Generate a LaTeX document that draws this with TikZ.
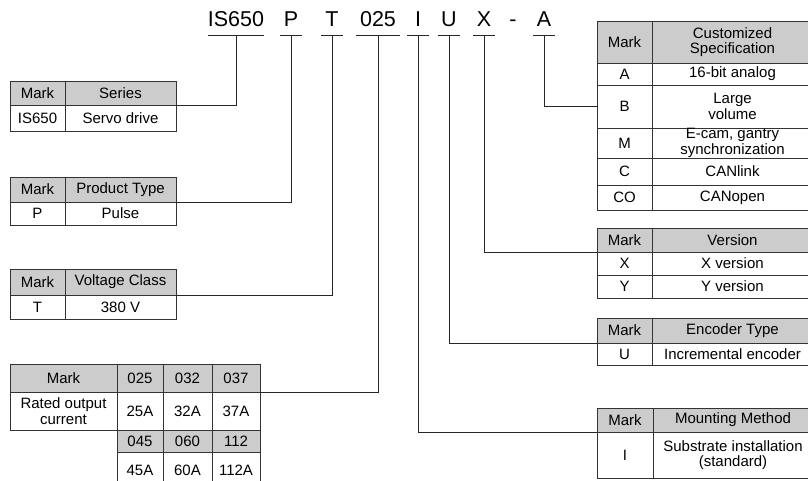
\documentclass[tikz,border=0pt]{standalone}
\usepackage{fontspec}
\setmainfont{Liberation Sans}
\usetikzlibrary{positioning}
\newcommand{\cellfont}{\fontsize{15}{15.5}\selectfont}
\newcommand{\codefont}{\fontsize{21.5}{23}\selectfont}

\begin{document}
\begin{tikzpicture}[x=1pt, y=-1pt,
  cell/.style={draw=black!80, line width=0.8pt, fill=white, anchor=north west,
               inner sep=0pt, outer sep=0pt, align=center, font=\cellfont, text=black},
  head/.style={cell, fill=black!20},
  link/.style={draw=black!85, line width=0.8pt},
  code/.style={anchor=south, font=\codefont, text=black, inner ysep=8pt,
               inner xsep=3.5pt, minimum width=21pt, text depth=0pt},
]
\useasboundingbox (0,0) rectangle (808,481);

% model code
\node[code, inner xsep=0pt] (c-ser) at (236,35) {IS650};
\node[code] (c-pro) at (291,35) {P};
\node[code] (c-vol) at (332,35) {T};
\node[code] (c-cur) at (378,35) {025};
\node[code] (c-mnt) at (418,35) {I};
\node[code] (c-enc) at (449,35) {U};
\node[code] (c-ver) at (484,35) {X};
\node[code] (c-dash) at (513,35) {-};
\node[code] (c-cus) at (544,35) {A};

% left tables
\node[head, minimum width=55, minimum height=24] (ser-m) at (10,81) {Mark};
\node[head, minimum width=111, minimum height=24] (ser-t) at (65,81) {Series};
\node[cell, minimum width=55, minimum height=26] (ser-m1) at (10,105) {IS650};
\node[cell, minimum width=111, minimum height=26] (ser-t1) at (65,105) {Servo drive};

\node[head, minimum width=55, minimum height=25] (pro-m) at (10,177) {Mark};
\node[head, minimum width=111, minimum height=25] (pro-t) at (65,177) {Product Type};
\node[cell, minimum width=55, minimum height=23] (pro-m1) at (10,202) {P};
\node[cell, minimum width=111, minimum height=23] (pro-t1) at (65,202) {Pulse};

\node[head, minimum width=55, minimum height=26] (vol-m) at (10,269) {Mark};
\node[head, minimum width=111, minimum height=26] (vol-t) at (65,269) {Voltage Class};
\node[cell, minimum width=55, minimum height=24] (vol-m1) at (10,295) {T};
\node[cell, minimum width=111, minimum height=24] (vol-t1) at (65,295) {380 V};

\node[head, minimum width=107, minimum height=28] (cur-m) at (10,364) {Mark};
\node[head, minimum width=46, minimum height=28] (cur-c1) at (117,364) {025};
\node[head, minimum width=49, minimum height=28] (cur-c2) at (163,364) {032};
\node[head, minimum width=48, minimum height=28] (cur-c3) at (212,364) {037};
\node[cell, minimum width=107, minimum height=38] (cur-t) at (10,392) {Rated output\\current};
\node[cell, minimum width=46, minimum height=38] (cur-v1) at (117,392) {25A};
\node[cell, minimum width=49, minimum height=38] (cur-v2) at (163,392) {32A};
\node[cell, minimum width=48, minimum height=38] (cur-v3) at (212,392) {37A};
\node[head, minimum width=46, minimum height=22] (cur-c4) at (117,430) {045};
\node[head, minimum width=49, minimum height=22] (cur-c5) at (163,430) {060};
\node[head, minimum width=48, minimum height=22] (cur-c6) at (212,430) {112};
\node[cell, minimum width=46, minimum height=36] (cur-v4) at (117,452) {45A};
\node[cell, minimum width=49, minimum height=36] (cur-v5) at (163,452) {60A};
\node[cell, minimum width=48, minimum height=36] (cur-v6) at (212,452) {112A};

% right tables
\node[head, minimum width=55, minimum height=42] (cus-m) at (597,21) {Mark};
\node[head, minimum width=161, minimum height=42] (cus-t) at (652,21) {Customized\\Specification};
\node[cell, minimum width=55, minimum height=22] (cus-A-m) at (597,63) {A};
\node[cell, minimum width=161, minimum height=22] (cus-A-t) at (652,63) {16-bit analog};
\node[cell, minimum width=55, minimum height=43] (cus-B-m) at (597,85) {B};
\node[cell, minimum width=161, minimum height=43] (cus-B-t) at (652,85) {Large\\volume};
\node[cell, minimum width=55, minimum height=30] (cus-M-m) at (597,128) {M};
\node[cell, minimum width=161, minimum height=30] (cus-M-t) at (652,128) {E-cam, gantry\\synchronization};
\node[cell, minimum width=55, minimum height=27] (cus-C-m) at (597,158) {C};
\node[cell, minimum width=161, minimum height=27] (cus-C-t) at (652,158) {CANlink};
\node[cell, minimum width=55, minimum height=25] (cus-CO-m) at (597,185) {CO};
\node[cell, minimum width=161, minimum height=25] (cus-CO-t) at (652,185) {CANopen};

\node[head, minimum width=55, minimum height=24] (ver-m) at (597,228) {Mark};
\node[head, minimum width=161, minimum height=24] (ver-t) at (652,228) {Version};
\node[cell, minimum width=55, minimum height=23] (ver-X-m) at (597,252) {X};
\node[cell, minimum width=161, minimum height=23] (ver-X-t) at (652,252) {X version};
\node[cell, minimum width=55, minimum height=23] (ver-Y-m) at (597,275) {Y};
\node[cell, minimum width=161, minimum height=23] (ver-Y-t) at (652,275) {Y version};

\node[head, minimum width=55, minimum height=25] (enc-m) at (597,318) {Mark};
\node[head, minimum width=161, minimum height=25] (enc-t) at (652,318) {Encoder Type};
\node[cell, minimum width=55, minimum height=22] (enc-U-m) at (597,343) {U};
\node[cell, minimum width=161, minimum height=22] (enc-U-t) at (652,343) {Incremental encoder};

\node[head, minimum width=56, minimum height=24] (mnt-m) at (597,408) {Mark};
\node[head, minimum width=160, minimum height=24] (mnt-t) at (653,408) {Mounting Method};
\node[cell, minimum width=56, minimum height=46] (mnt-I-m) at (597,432) {I};
\node[cell, minimum width=160, minimum height=46] (mnt-I-t) at (653,432) {Substrate installation\\(standard)};

% connectors
\foreach \n in {ser,pro,vol,cur,mnt,enc,ver,cus}
  \draw[link] (c-\n.south west) -- (c-\n.south east);
\draw[link] (c-ser.south) |- (ser-t.south east);
\draw[link] (c-pro.south) |- (pro-t.south east);
\draw[link] (c-vol.south) |- (vol-t.south east);
\draw[link] (c-cur.south) |- (cur-c3.south east);
\draw[link] (c-mnt.south) |- (mnt-m.south west);
\draw[link] (c-enc.south) |- (enc-m.south west);
\draw[link] (c-ver.south) |- (ver-m.south west);
\draw[link] (c-cus.south) |- (cus-B-m.west);
\end{tikzpicture}
\end{document}
